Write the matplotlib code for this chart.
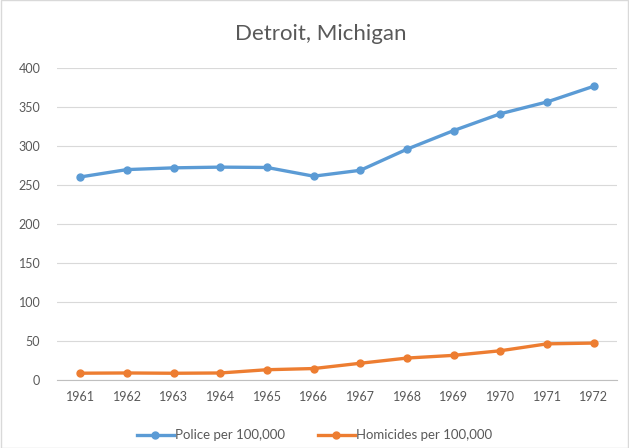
import matplotlib.pyplot as plt

years = ['1961', '1962', '1963', '1964', '1965', '1966',
         '1967', '1968', '1969', '1970', '1971', '1972']
police = [260.35, 269.80, 272.04, 272.96, 272.51, 261.34,
          268.89, 295.99, 319.87, 341.43, 356.59, 376.69]
homicides = [8.60, 8.90, 8.52, 8.89, 13.07, 14.57,
             21.36, 28.03, 31.49, 37.39, 46.26, 47.24]

plt.rcParams['font.family'] = ['Lato', 'DejaVu Sans']
grey = '#595959'

fig = plt.figure(figsize=(6.29, 4.48), dpi=100)
ax = fig.add_axes([0.0906, 0.152, 0.8904, 0.696])

x = range(len(years))
ax.plot(x, police, color='#5B9BD5', lw=2.4, marker='o', ms=5,
        label='Police per 100,000')
ax.plot(x, homicides, color='#ED7D31', lw=2.4, marker='o', ms=5,
        label='Homicides per 100,000')

ax.set_xlim(-0.5, len(years) - 0.5)
ax.set_ylim(0, 400)
ax.set_yticks(range(0, 401, 50))
ax.set_xticks(list(x))
ax.set_xticklabels(years)
ax.grid(axis='y', color='#d9d9d9', lw=0.8)
ax.set_axisbelow(True)
for s in ['top', 'right', 'left']:
    ax.spines[s].set_visible(False)
ax.spines['bottom'].set_color('#bfbfbf')
ax.tick_params(length=0, colors=grey, labelsize=9, pad=8)
ax.tick_params(axis='y', pad=12)

fig.text(0.51, 0.925, 'Detroit, Michigan', ha='center', va='center',
         fontsize=16, color=grey)
fig.legend(loc='center', bbox_to_anchor=(0.5, 0.028), ncol=2, frameon=False,
           fontsize=9.5, labelcolor=grey, handlelength=2.8, columnspacing=2.5,
           handletextpad=0.1)

fig.patches.append(plt.Rectangle((0.001, 0.001), 0.998, 0.998, transform=fig.transFigure,
                                 fill=False, edgecolor='#d9d9d9', lw=1))

fig.savefig('out.png', dpi=100)
